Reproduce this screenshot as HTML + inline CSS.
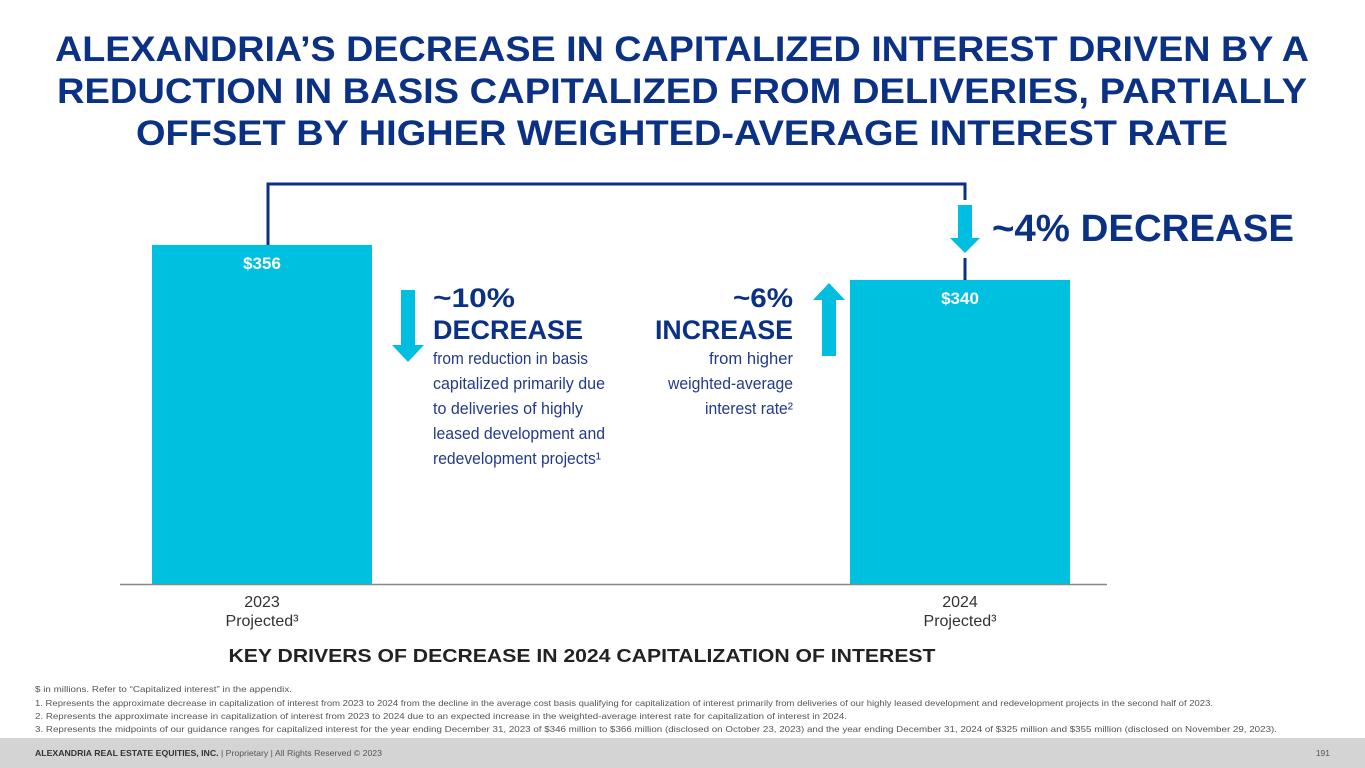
<!DOCTYPE html>
<html><head><meta charset="utf-8"><style>
html,body{margin:0;padding:0;background:#fff;width:1365px;height:768px;overflow:hidden}
svg{display:block;font-family:"Liberation Sans",sans-serif}
</style></head><body>
<svg id="chart" width="1365" height="768" viewBox="0 0 1365 768">
<g fill="#0b3185" font-weight="bold" font-size="35" text-anchor="middle">
<text x="682" y="61" textLength="1254" lengthAdjust="spacingAndGlyphs">ALEXANDRIA’S DECREASE IN CAPITALIZED INTEREST DRIVEN BY A</text>
<text x="682" y="103" textLength="1250" lengthAdjust="spacingAndGlyphs">REDUCTION IN BASIS CAPITALIZED FROM DELIVERIES, PARTIALLY</text>
<text x="682" y="145" textLength="1092" lengthAdjust="spacingAndGlyphs">OFFSET BY HIGHER WEIGHTED-AVERAGE INTEREST RATE</text>
</g>
<g id="bars"></g>
<line x1="120" y1="584.5" x2="1107" y2="584.5" stroke="#888" stroke-width="1.5"/>
<path d="M268 245 V184 H965 V200" fill="none" stroke="#0b3185" stroke-width="3"/>
<line x1="965" y1="258" x2="965" y2="280" stroke="#0b3185" stroke-width="3"/>
<path d="M958 205 H972 V238 H980 L965 253 L950 238 H958 Z" fill="#00bee0"/>
<text x="992" y="241" font-size="38" font-weight="bold" fill="#0b3185" textLength="302" lengthAdjust="spacingAndGlyphs">~4% DECREASE</text>
<path d="M401 290 H415 V345 H424 L408 362 L392 345 H401 Z" fill="#00bee0"/>
<g fill="#0b3185">
<text x="433" y="307" font-size="27" font-weight="bold" textLength="82" lengthAdjust="spacingAndGlyphs">~10%</text>
<text x="433" y="339" font-size="27" font-weight="bold" textLength="150" lengthAdjust="spacingAndGlyphs">DECREASE</text>
<g font-size="17" fill="#233a8a">
<text x="433" y="364" textLength="155" lengthAdjust="spacingAndGlyphs">from reduction in basis</text>
<text x="433" y="389" textLength="172" lengthAdjust="spacingAndGlyphs">capitalized primarily due</text>
<text x="433" y="414" textLength="150" lengthAdjust="spacingAndGlyphs">to deliveries of highly</text>
<text x="433" y="439" textLength="172" lengthAdjust="spacingAndGlyphs">leased development and</text>
<text x="433" y="464" textLength="168" lengthAdjust="spacingAndGlyphs">redevelopment projects¹</text>
</g></g>
<path d="M822 356 H836 V300 H845 L829 283 L813 300 H822 Z" fill="#00bee0"/>
<g fill="#0b3185" text-anchor="end">
<text x="793" y="307" font-size="27" font-weight="bold" textLength="60" lengthAdjust="spacingAndGlyphs">~6%</text>
<text x="793" y="339" font-size="27" font-weight="bold" textLength="138" lengthAdjust="spacingAndGlyphs">INCREASE</text>
<g font-size="17" fill="#233a8a">
<text x="793" y="364" textLength="84" lengthAdjust="spacingAndGlyphs">from higher</text>
<text x="793" y="389" textLength="125" lengthAdjust="spacingAndGlyphs">weighted-average</text>
<text x="793" y="414" textLength="88" lengthAdjust="spacingAndGlyphs">interest rate²</text>
</g></g>
<g id="xlabels" font-size="16" fill="#333" text-anchor="middle"></g>
<text x="582" y="662" font-size="18" font-weight="bold" fill="#222" text-anchor="middle" textLength="707" lengthAdjust="spacingAndGlyphs">KEY DRIVERS OF DECREASE IN 2024 CAPITALIZATION OF INTEREST</text>
<g font-size="8.5" fill="#555">
<text x="35" y="692" textLength="257" lengthAdjust="spacingAndGlyphs">$ in millions. Refer to “Capitalized interest” in the appendix.</text>
<text x="35" y="706" textLength="1178" lengthAdjust="spacingAndGlyphs">1.   Represents the approximate decrease in capitalization of interest from 2023 to 2024 from the decline in the average cost basis qualifying for capitalization of interest primarily from deliveries of our highly leased development and redevelopment projects in the second half of 2023.</text>
<text x="35" y="719" textLength="812" lengthAdjust="spacingAndGlyphs">2.   Represents the approximate increase in capitalization of interest from 2023 to 2024 due to an expected increase in the weighted-average interest rate for capitalization of interest in 2024.</text>
<text x="35" y="732" textLength="1242" lengthAdjust="spacingAndGlyphs">3.   Represents the midpoints of our guidance ranges for capitalized interest for the year ending December 31, 2023 of $346 million to $366 million (disclosed on October 23, 2023) and the year ending December 31, 2024 of $325 million and $355 million (disclosed on November 29, 2023).</text>
</g>
<rect x="0" y="738" width="1365" height="30" fill="#d4d4d4"/>
<text x="35" y="756" font-size="8.5" fill="#555" textLength="347" lengthAdjust="spacingAndGlyphs"><tspan font-weight="bold" fill="#333">ALEXANDRIA REAL ESTATE EQUITIES, INC.</tspan> | Proprietary | All Rights Reserved © 2023</text>
<text x="1330" y="756" font-size="8.5" fill="#555" text-anchor="end">191</text>
</svg>
<script>
const categories = ["2023", "2024"];
const subLabels = ["Projected³", "Projected³"];
const values = [356, 340];
const valueLabels = ["$356", "$340"];
const ns = "http://www.w3.org/2000/svg";
const baseY = 584, yMin = 201, k = 2.1875;
function yScale(v){ return baseY - (v - yMin) * k; }
function xScale(i){ return 152 + i * 698; }
const barW = 220;
const bars = document.getElementById("bars");
const xl = document.getElementById("xlabels");
values.forEach((v, i) => {
  const r = document.createElementNS(ns, "rect");
  r.setAttribute("x", xScale(i)); r.setAttribute("y", yScale(v));
  r.setAttribute("width", barW); r.setAttribute("height", baseY - yScale(v));
  r.setAttribute("fill", "#00c0e0");
  
  
  bars.appendChild(r);
  const t = document.createElementNS(ns, "text");
  t.setAttribute("x", xScale(i) + barW / 2); t.setAttribute("y", yScale(v) + 24);
  t.setAttribute("text-anchor", "middle"); t.setAttribute("fill", "#fff");
  t.setAttribute("font-size", "17"); t.setAttribute("font-weight", "bold");
  t.textContent = valueLabels[i];
  
  
  bars.appendChild(t);
  const a = document.createElementNS(ns, "text");
  a.setAttribute("x", xScale(i) + 110); a.setAttribute("y", 607);
  a.textContent = categories[i];
  
  
  xl.appendChild(a);
  const b = document.createElementNS(ns, "text");
  b.setAttribute("x", xScale(i) + 110); b.setAttribute("y", 626);
  b.textContent = subLabels[i];
  
  
  xl.appendChild(b);
});
</script>
</body></html>
